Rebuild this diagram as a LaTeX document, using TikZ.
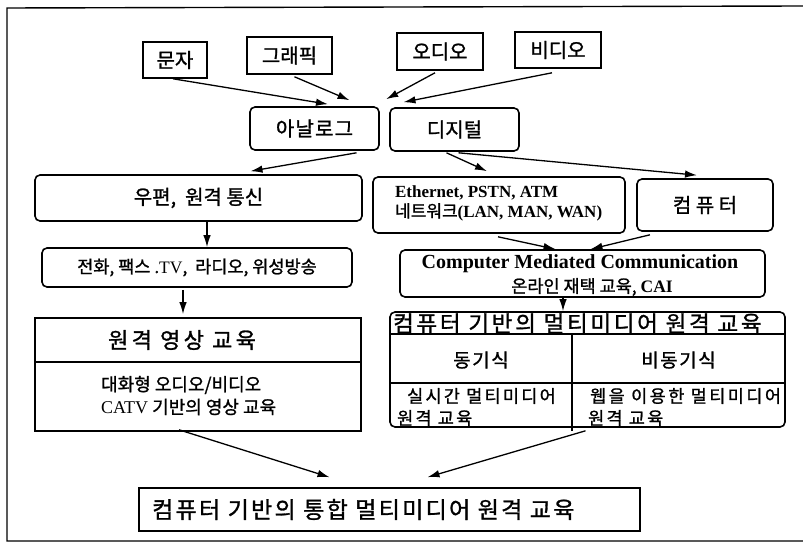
\documentclass[tikz,border=0pt]{standalone}
\usepackage{fontspec}
\setmainfont{Liberation Serif}
\newfontfamily\kr[FakeBold=1.2]{Noto Sans CJK KR}
\usetikzlibrary{arrows.meta,calc}
\newcommand{\ls}[1]{\addfontfeatures{LetterSpace=#1}}
\begin{document}
\begin{tikzpicture}[x=1pt,y=-1pt,line width=1.6pt,
  sq/.style={draw,inner sep=0pt,line width=1.6pt},
  rd/.style={sq,rounded corners=5pt},
  arr/.style={-{Latex[length=12pt,width=7.5pt]},line width=1.3pt},
  kf/.style={font=\kr\fontsize{#1}{#1}\selectfont}]
\useasboundingbox (0,0) rectangle (803,545);
% outer frame
\draw[line width=1.4pt] (803,6) -- (7,8) -- (7,541) -- (803,541);
% top sources
\node[sq,kf=20,minimum width=64pt,minimum height=36pt] (munja) at (175,60) {문자};
\node[sq,kf=20,minimum width=85pt,minimum height=37pt] (graphic) at (289.5,55.5) {그래픽};
\node[sq,kf=20,minimum width=86pt,minimum height=37pt] (audio) at (440,51.5) {오디오};
\node[sq,kf=20,minimum width=86pt,minimum height=36pt] (video) at (558,50) {비디오};
% analog / digital
\node[rd,kf=20,minimum width=129pt,minimum height=43pt] (analog) at (314.5,128.5) {\ls{6}아날로그};
\node[rd,kf=20,minimum width=129pt,minimum height=43pt] (digital) at (454.5,129.5) {디지털};
% left branch
\node[rd,kf=20,minimum width=327pt,minimum height=46pt] (post) at (198.5,198) {우편,\ \ 원격 통신};
\node[rd,kf=17.5,minimum width=310pt,minimum height=39pt] (phone) at (197,267.5) {전화, 팩스 .{\rmfamily TV},\ \ 라디오, 위성방송};
\node[sq,minimum width=326pt,minimum height=113pt] (video2) at (198,374.5) {};
\draw ([yshift=-45pt]video2.north west) -- ([yshift=-45pt]video2.north east);
\node[kf=22,anchor=west] (video2t) at (104,340) {\ls{15}원격 영상 교육};
\node[kf=18,anchor=west] (video2a) at (97,385) {대화형 오디오/비디오};
\node[kf=18,anchor=west] (video2b) at (97,407) {{\rmfamily CATV} 기반의 영상 교육};
% right branch
\node[rd,minimum width=252pt,minimum height=56pt] (net) at (499,205) {};
\node[anchor=west,font=\bfseries\fontsize{17}{17}\selectfont] (net1) at (391,193) {Ethernet, PSTN, ATM};
\node[anchor=west,font=\fontsize{17}{17}\selectfont] (net2) at (391,212) {{\kr 네트워크}\textbf{(LAN, MAN, WAN)}};
\node[rd,kf=20,minimum width=136pt,minimum height=52pt] (comp) at (705,205) {컴 퓨 터};
\node[rd,minimum width=365pt,minimum height=47pt] (cmc) at (582.5,273.5) {};
\node[font=\bfseries\fontsize{20}{20}\selectfont] (cmc1) at (580,264) {Computer Mediated Communication};
\node[kf=17.5] (cmc2) at (592,287) {온라인 재택 교육, {\rmfamily\bfseries CAI}};
\node[rd,minimum width=395pt,minimum height=115pt] (big) at (587.5,369.5) {};
\draw ([yshift=-23pt]big.north west) -- ([yshift=-23pt]big.north east);
\draw ([yshift=-72pt]big.north west) -- ([yshift=-72pt]big.north east);
\draw ([xshift=-15.5pt,yshift=-23pt]big.north) -- ([xshift=-15.5pt,yshift=-3pt]big.south);
\node[kf=22.5,anchor=west] (bigt) at (389,323.5) {\ls{12}컴퓨터 기반의 멀티미디어 원격 교육};
\node[kf=19] (sync) at (481,360) {\ls{8}동기식};
\node[kf=19] (async) at (678.5,360) {\ls{8}비동기식};
\node[kf=17.5,anchor=west] (s1) at (403,396) {\ls{13}실시간 멀티미디어};
\node[kf=17.5,anchor=west] (s2) at (393,418) {\ls{13}원격 교육};
\node[kf=17.5,anchor=west] (a1) at (586,396) {\ls{14}웹을 이용한 멀티미디어};
\node[kf=17.5,anchor=west] (a2) at (584,418) {\ls{13}원격 교육};
% final
\node[sq,minimum width=501pt,minimum height=43pt] (final) at (389.5,509.5) {};
\node[kf=23,anchor=west] (finalt) at (148,509.5) {\ls{10}컴퓨터 기반의 통합 멀티미디어 원격 교육};
% arrows
\draw[arr] ([xshift=-2pt]munja.south) -- ([xshift=13.5pt,yshift=2pt]analog.north);
\draw[arr] ([xshift=5pt,yshift=-2pt]graphic.south) -- ([xshift=35pt,yshift=6pt]analog.north);
\draw[arr] ([xshift=-5pt,yshift=-2pt]audio.south) -- ([xshift=-3pt,yshift=8pt]digital.north west);
\draw[arr] ([xshift=-6pt,yshift=-4pt]video.south) -- ([xshift=-51pt,yshift=5pt]digital.north);
\draw[arr] ([xshift=42pt,yshift=-2pt]analog.south) -- ([xshift=52pt,yshift=3pt]post.north);
\draw[arr] ([xshift=-8pt,yshift=-1pt]digital.south) -- ([xshift=-12pt,yshift=5pt]net.north);
\draw[arr] ([xshift=4pt,yshift=-1pt]digital.south) -- ([xshift=-8pt,yshift=3pt]comp.north);
\draw[arr] ([xshift=8.5pt]post.south) -- ([xshift=10pt]phone.north);
\draw[arr] ([xshift=-14pt,yshift=-2pt]phone.south) -- ([xshift=-15pt,yshift=3pt]video2.north);
\draw[arr] ([xshift=-1pt,yshift=-3pt]net.south) -- ([xshift=-27pt]cmc.north);
\draw[arr] ([xshift=-55pt,yshift=-3pt]comp.south) -- ([xshift=8pt]cmc.north);
\draw[arr] ([xshift=-19.5pt]cmc.south) -- ([xshift=-24.5pt]big.north);
\draw[arr] ([xshift=-19pt,yshift=2pt]video2.south) -- ([xshift=-60pt,yshift=10pt]final.north);
\draw[arr] ([xshift=-2pt,yshift=-3pt]big.south) -- ([xshift=38pt,yshift=10pt]final.north);
\end{tikzpicture}
\end{document}
